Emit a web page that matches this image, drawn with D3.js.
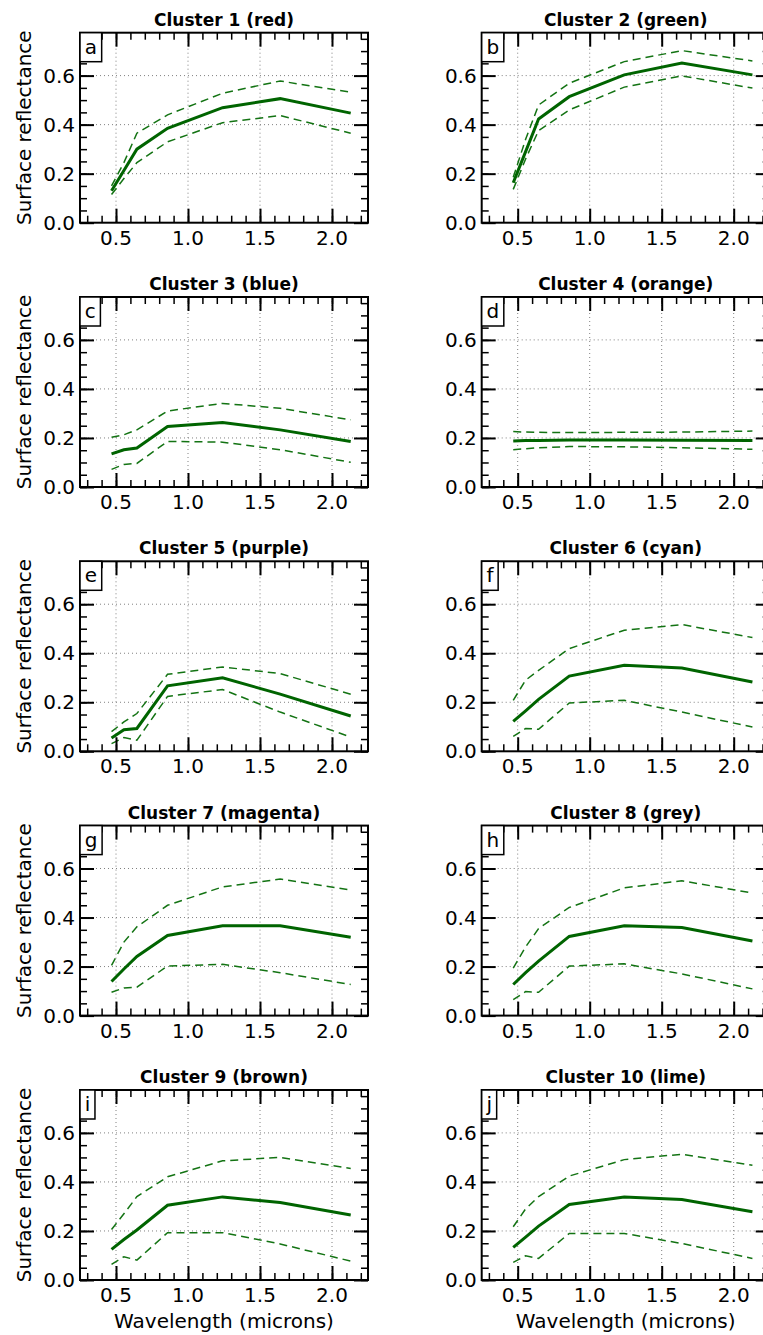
<!DOCTYPE html>
<html>
<head>
	<title>Cluster surface reflectance</title>
	<script src="https://d3js.org/d3.v7.min.js"></script>
	<style type="text/css">
		body { margin: 0; background: white; }
		text { font-family: "DejaVu Sans", sans-serif; fill: black; }
		.grid line { stroke: #808080; stroke-width: 1; stroke-dasharray: 1,3; }
		.mean { fill: none; stroke: #006400; stroke-width: 3; }
		.bound { fill: none; stroke: #137313; stroke-width: 1.5; stroke-dasharray: 8,5; }
	</style>
</head>
<body>
<div id="visualization"></div>
<script type="text/javascript">
var svg_width = 763;
var svg_height = 1335;

// MODIS band centres (microns)
var wavelengths = [0.469, 0.555, 0.645, 0.858, 1.24, 1.64, 2.13];

var clusterTitles = ["Cluster 1 (red)", "Cluster 2 (green)", "Cluster 3 (blue)", "Cluster 4 (orange)",
	"Cluster 5 (purple)", "Cluster 6 (cyan)", "Cluster 7 (magenta)", "Cluster 8 (grey)",
	"Cluster 9 (brown)", "Cluster 10 (lime)"];
var panelLetters = ["a", "b", "c", "d", "e", "f", "g", "h", "i", "j"];

var xTicks = [0.5, 1.0, 1.5, 2.0];
var yTicks = [0.0, 0.2, 0.4, 0.6];

var meanRefl = [
	[0.130, 0.213, 0.300, 0.385, 0.469, 0.506, 0.447],
	[0.163, 0.290, 0.423, 0.514, 0.603, 0.651, 0.603],
	[0.135, 0.152, 0.159, 0.247, 0.263, 0.233, 0.186],
	[0.188, 0.190, 0.190, 0.192, 0.192, 0.191, 0.190],
	[0.054, 0.088, 0.093, 0.267, 0.300, 0.233, 0.144],
	[0.122, 0.165, 0.212, 0.307, 0.351, 0.340, 0.283],
	[0.139, 0.190, 0.241, 0.327, 0.366, 0.366, 0.320],
	[0.127, 0.175, 0.222, 0.323, 0.366, 0.359, 0.304],
	[0.125, 0.165, 0.204, 0.305, 0.339, 0.316, 0.265],
	[0.133, 0.175, 0.220, 0.308, 0.339, 0.328, 0.278]
];
var upperRefl = [
	[0.150, 0.245, 0.365, 0.440, 0.528, 0.578, 0.532],
	[0.185, 0.340, 0.480, 0.569, 0.657, 0.702, 0.660],
	[0.203, 0.213, 0.233, 0.310, 0.341, 0.321, 0.274],
	[0.226, 0.224, 0.223, 0.222, 0.223, 0.224, 0.228],
	[0.080, 0.120, 0.154, 0.314, 0.344, 0.317, 0.233],
	[0.208, 0.290, 0.330, 0.419, 0.494, 0.517, 0.464],
	[0.205, 0.300, 0.362, 0.450, 0.525, 0.557, 0.512],
	[0.194, 0.280, 0.355, 0.441, 0.521, 0.550, 0.500],
	[0.206, 0.270, 0.340, 0.421, 0.486, 0.500, 0.455],
	[0.217, 0.290, 0.340, 0.424, 0.491, 0.513, 0.468]
];
var lowerRefl = [
	[0.115, 0.180, 0.245, 0.330, 0.408, 0.437, 0.365],
	[0.136, 0.260, 0.376, 0.460, 0.553, 0.599, 0.549],
	[0.072, 0.092, 0.096, 0.186, 0.183, 0.152, 0.101],
	[0.152, 0.156, 0.160, 0.165, 0.164, 0.160, 0.154],
	[0.031, 0.056, 0.045, 0.224, 0.252, 0.160, 0.058],
	[0.061, 0.093, 0.090, 0.197, 0.208, 0.160, 0.099],
	[0.095, 0.113, 0.116, 0.202, 0.209, 0.175, 0.127],
	[0.065, 0.098, 0.095, 0.202, 0.211, 0.170, 0.109],
	[0.064, 0.095, 0.081, 0.193, 0.193, 0.147, 0.077],
	[0.072, 0.099, 0.088, 0.190, 0.190, 0.149, 0.088]
];

var colLeft = [80, 481.7];
var rowTop = [32.7, 297, 561.3, 825.6, 1090];
var panel_w = 288;
var panel_h = 190;

var svg = d3.select("#visualization")
	.append("svg")
	.attr("width", svg_width)
	.attr("height", svg_height);

var x = d3.scaleLinear().domain([0.25, 2.25]).range([0, panel_w]);
var y = d3.scaleLinear().domain([0, 0.775]).range([panel_h, 0]);

var line = d3.line()
	.x(function(d) { return x(d[0]); })
	.y(function(d) { return y(d[1]); });

function pairs(vals) {
	return wavelengths.map(function(w, i) { return [w, vals[i]]; });
}

// inward ticks on all four sides (major + minor)
function tickSet(g, axis, scale, ticks, minor) {
	g.call(axis(scale).tickValues(minor).tickSize(-7).tickFormat(""))
	 .call(function(s) { s.select(".domain").remove(); })
	 .selectAll("line").attr("stroke-width", 1.5);
	var gm = g.append("g").call(axis(scale).tickValues(ticks).tickSize(-14).tickFormat(""));
	gm.select(".domain").remove();
	gm.selectAll("line").attr("stroke-width", 2);
}

var xMinor = d3.range(3, 23).map(function(i) { return i / 10; });
var yMinor = d3.range(0, 16).map(function(i) { return i * 0.05; });

clusterTitles.forEach(function(title, k) {
	var col = k % 2, row = Math.floor(k / 2);
	var g = svg.append("g")
		.attr("transform", "translate(" + colLeft[col] + "," + rowTop[row] + ")");

	// dotted grid
	var grid = g.append("g").attr("class", "grid");
	grid.selectAll(".gx").data(xTicks).enter().append("line")
		.attr("x1", x).attr("x2", x).attr("y1", 0).attr("y2", panel_h);
	grid.selectAll(".gy").data(yTicks.slice(1)).enter().append("line")
		.attr("x1", 0).attr("x2", panel_w).attr("y1", y).attr("y2", y);

	g.append("path").datum(pairs(upperRefl[k])).attr("class", "bound").attr("d", line);
	g.append("path").datum(pairs(lowerRefl[k])).attr("class", "bound").attr("d", line);
	g.append("path").datum(pairs(meanRefl[k])).attr("class", "mean").attr("d", line);

	tickSet(g.append("g").attr("transform", "translate(0," + panel_h + ")"), d3.axisBottom, x, xTicks, xMinor);
	tickSet(g.append("g"), d3.axisTop, x, xTicks, xMinor);
	tickSet(g.append("g"), d3.axisLeft, y, yTicks, yMinor);
	tickSet(g.append("g").attr("transform", "translate(" + panel_w + ",0)"), d3.axisRight, y, yTicks, yMinor);

	g.append("rect")
		.attr("width", panel_w).attr("height", panel_h)
		.attr("fill", "none").attr("stroke", "black").attr("stroke-width", 2);

	// tick labels
	g.selectAll(".xl").data(xTicks).enter().append("text")
		.attr("x", x).attr("y", panel_h + 22)
		.attr("text-anchor", "middle").attr("font-size", 20)
		.text(function(d) { return d.toFixed(1); });
	g.selectAll(".yl").data(yTicks).enter().append("text")
		.attr("x", -5).attr("y", y).attr("dy", "0.36em")
		.attr("text-anchor", "end").attr("font-size", 20)
		.text(function(d) { return d.toFixed(1); });

	g.append("text")
		.attr("x", panel_w / 2).attr("y", -7)
		.attr("text-anchor", "middle").attr("font-size", 17).attr("font-weight", "bold")
		.text(title);

	// panel letter in a box
	var box = g.append("rect").attr("fill", "white").attr("stroke", "black").attr("stroke-width", 1.5);
	var letter = g.append("text")
		.attr("x", 4.7).attr("y", 21).attr("font-size", 20)
		.text(panelLetters[k]);
	var lw = letter.node().getComputedTextLength();
	box.attr("x", 0).attr("y", 0).attr("width", lw + 9.4).attr("height", 29);

	if (col == 0) {
		g.append("text")
			.attr("transform", "translate(-49," + (panel_h / 2) + ") rotate(-90)")
			.attr("text-anchor", "middle").attr("font-size", 20)
			.text("Surface reflectance");
	}
	if (row == 4) {
		g.append("text")
			.attr("x", panel_w / 2).attr("y", panel_h + 48)
			.attr("text-anchor", "middle").attr("font-size", 20)
			.text("Wavelength (microns)");
	}
});
</script>
</body>
</html>
